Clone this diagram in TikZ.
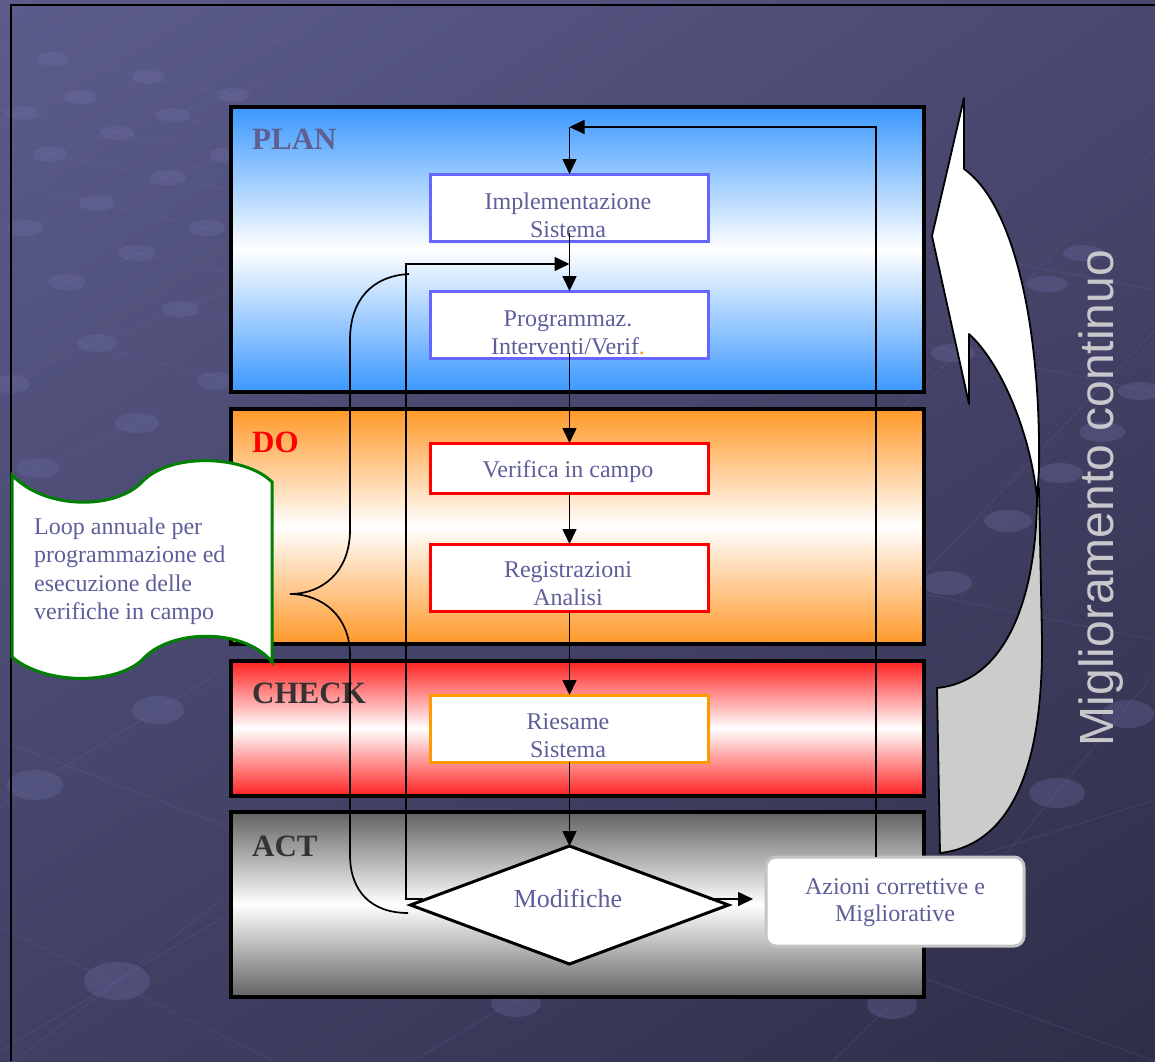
\documentclass[tikz,border=0pt]{standalone}
\usepackage{fontspec}
\setmainfont{Liberation Serif}
\newfontfamily\arialfont{Liberation Sans}
\usetikzlibrary{arrows.meta,shapes.geometric,shadings}

\definecolor{bgUL}{RGB}{92,92,140}
\definecolor{bgUR}{RGB}{74,72,112}
\definecolor{bgLL}{RGB}{64,64,100}
\definecolor{bgLR}{RGB}{46,46,72}
\definecolor{dotcol}{RGB}{112,112,168}
\definecolor{txtblue}{RGB}{94,94,154}
\definecolor{plantxt}{RGB}{95,95,143}
\definecolor{planblue}{RGB}{58,152,255}
\definecolor{doorange}{RGB}{255,152,40}
\definecolor{chkred}{RGB}{255,34,34}
\definecolor{actgray}{RGB}{98,98,98}
\definecolor{procblue}{RGB}{102,102,255}
\definecolor{procorange}{RGB}{255,153,0}
\definecolor{notegreen}{RGB}{0,128,0}
\definecolor{arrowgray}{RGB}{204,204,204}
\definecolor{mglgray}{RGB}{200,200,204}
\definecolor{azborder}{RGB}{196,196,196}
\definecolor{lbldark}{RGB}{51,51,51}

\begin{document}
\begin{tikzpicture}[x=1pt,y=-1pt,
  bgdot/.style={fill=dotcol,opacity=0.3},
  bgline/.style={draw=dotcol,opacity=0.2,line width=1pt},
  phase/.style={draw=black,line width=3.5pt,minimum width=693pt,inner sep=0pt,
    outer sep=0pt,anchor=north west,middle color=white},
  phaselbl/.style={anchor=base west,inner sep=0pt,
    font=\bfseries\fontsize{31}{31}\selectfont},
  procbox/.style={draw,line width=3pt,fill=white,minimum width=278pt,
    inner sep=0pt,outer sep=0pt},
  proctext/.style={align=center,inner sep=0pt,text=txtblue,
    font=\fontsize{24}{28}\selectfont},
  decision/.style={diamond,draw=black,line width=3pt,fill=white,aspect=2.7,
    minimum width=318pt,minimum height=118pt,inner sep=0pt,outer sep=0pt},
  actionbox/.style={draw=azborder,line width=3pt,fill=white,rounded corners=10pt,
    minimum width=258pt,minimum height=89pt,inner sep=0pt,outer sep=0pt},
  arr/.style={draw=black,line width=1.6pt,-{Triangle[length=15pt,width=14pt]}},
  bracestyle/.style={draw=black,line width=1.7pt},
  notestyle/.style={draw=notegreen,line width=3pt,fill=white},
  bandstyle/.style={draw=black,line width=1.8pt,line join=round}
]
\useasboundingbox (0,0) rectangle (1155,1061);

% backdrop
\shade[upper left=bgUL,upper right=bgUR,lower left=bgLL,lower right=bgLR]
  (0,0) rectangle (1155,1061);

% faint lattice of the backdrop
\foreach \ax/\ay/\bx/\by in {
  0/48/420/132, 0/82/420/166, 0/109/420/193, 0/144/420/228, 0/181/420/276,
  0/222/420/316, 0/266/420/366, 0/325/420/425, 0/119/300/35, 0/170/330/63,
  0/237/330/118, 0/308/330/180, 0/383/330/248, 0/485/330/336, 0/806/330/605,
  0/1051/330/853, 0/740/330/866, 0/927/273/1061, 15/1061/221/900,
  900/340/1155/392, 920/593/1155/640, 960/253/1155/290,
  1155/150/900/410, 1155/330/880/620, 1155/673/1007/853,
  1155/800/516/1000, 516/1000/413/1061, 892/1003/833/1061, 921/977/1155/1061}
  \draw[bgline] (\ax,\ay) -- (\bx,\by);
\foreach \x/\y/\rx/\ry in {
  53/59/16/7, 148/77/16/7, 233/95/16/7, 80/97/16/7, 173/115/17/7, 22/113/17/7,
  117/133/17/7, 50/154/17/8, 227/155/17/8, 168/178/18/8, 97/203/18/8,
  207/228/18/8, 25/228/18/8, 137/253/19/8, 67/282/19/8, 180/309/19/8,
  97/343/20/9, 10/384/20/9, 217/381/20/9, 137/423/22/10, 38/468/22/10,
  158/710/26/14, 35/785/28/15, 117/981/33/19,
  1083/253/20/8, 1047/284/21/8, 953/353/22/9, 1140/391/22/9, 1102/432/23/10,
  1060/473/23/10, 1008/521/24/11, 947/583/25/12, 1128/714/26/14,
  1057/793/28/15, 516/1003/25/14, 892/1005/25/14}
  \fill[bgdot] (\x,\y) ellipse [x radius=\rx, y radius=\ry];

% frame lines
\draw[line width=2pt] (11,1061) -- (11,5) -- (1155,5);

% curved improvement arrow: back face, then front face
\draw[bandstyle,fill=arrowgray]
  (1037,498) .. controls (1036,610) and (1000,682) .. (937,688)
  -- (940,853) .. controls (1010,845) and (1043,770) .. (1042,640)
  -- (1039,488) -- cycle;
\draw[bandstyle,fill=white]
  (932,236) -- (964,98) -- (964,169)
  .. controls (1015,205) and (1041,330) .. (1039,470) -- (1037,498)
  .. controls (1030,430) and (1000,362) .. (969,334) -- (969,404) -- cycle;
\node[rotate=90,anchor=base,inner sep=0pt,text=mglgray,
  font=\arialfont\fontsize{48}{48}\selectfont] (migl) at (1113,498)
  {Miglioramento continuo};

% PDCA phases
\node[phase,top color=planblue,bottom color=planblue,middle color=white,
  minimum height=285pt] (plan) at (231,107) {};
\node[phase,top color=doorange,bottom color=doorange,middle color=white,
  minimum height=235pt] (do) at (231,409) {};
\node[phase,top color=chkred,bottom color=chkred,middle color=white,
  minimum height=135pt] (check) at (231,661) {};
\node[phase,top color=actgray,bottom color=actgray,middle color=white,
  minimum height=185pt] (act) at (231,812) {};
\node[phaselbl,text=plantxt] (planlbl) at (252,149) {PLAN};
\node[phaselbl,text=red] (dolbl) at (252,452) {DO};
\node[phaselbl,text=lbldark] (checklbl) at (252,703) {CHECK};
\node[phaselbl,text=lbldark] (actlbl) at (252,856) {ACT};

% annual loop brace
\draw[bracestyle] (409,274) .. controls (372,276) and (350,300) .. (350,340)
  -- (350,530) .. controls (350,572) and (322,594) .. (290,594)
  .. controls (322,594) and (350,616) .. (350,655)
  -- (350,855) .. controls (350,892) and (372,913) .. (408,913);

% process steps
\node[procbox,draw=procblue,minimum height=67pt] (impl) at (569.5,207.5) {};
\node[procbox,draw=procblue,minimum height=67pt] (prog) at (569.5,324.5) {};
\node[procbox,draw=red,minimum height=50pt] (ver) at (569.5,468) {};
\node[procbox,draw=red,minimum height=67pt] (reg) at (569.5,577.5) {};
\node[procbox,draw=procorange,minimum height=67pt] (ries) at (569.5,728.5) {};
\node[decision] (mod) at (569.5,905) {};
\node[actionbox] (az) at (895,901.5) {};

\node[proctext] (impltxt) at (568,214.8) {Implementazione\\Sistema};
\node[proctext] (progtxt) at (568,333.2)
  {Programmaz.\\Interventi/Verif\textcolor{procorange}{.}};
\node[proctext] (vertxt) at (568,471.4) {Verifica in campo};
\node[proctext] (regtxt) at (568,583.3) {Registrazioni\\Analisi};
\node[proctext] (riestxt) at (568,735.5) {Riesame\\Sistema};
\node[proctext,font=\fontsize{26}{30}\selectfont] (modtxt) at (568,898) {Modifiche};
\node[proctext,font=\fontsize{24}{27}\selectfont] (aztxt) at (895,903)
  {Azioni correttive e\\Migliorative};

% flow connectors
\coordinate (topj) at (569.5,127);
\coordinate (loopj) at (569.5,264);
\coordinate (loopc) at (406,899);
\draw[arr] ([xshift=-19pt]az.north) |- (topj);
\draw[arr] (topj) -- (impl.north);
\draw[arr] ([yshift=8pt]impl.south) -- (prog.north);
\draw[arr] ([xshift=12pt,yshift=6pt]mod.west) -- (loopc) |- (loopj);
\draw[arr] ([yshift=5pt]prog.south) -- (ver.north);
\draw[arr] (ver.south) -- (reg.north);
\draw[arr] (reg.south) -- (ries.north);
\draw[arr] (ries.south) -- (mod.north);
\draw[arr,shorten >=13pt] ([xshift=-20pt,yshift=6pt]mod.east)
  -- ([yshift=6pt]mod.east -| az.west);

% wavy note
\draw[notestyle] (12,475) .. controls (45,510) and (115,510) .. (142,482)
  .. controls (170,452) and (245,455) .. (272,482) -- (272,662)
  .. controls (245,628) and (170,628) .. (142,660)
  .. controls (115,685) and (45,685) .. (12,657) -- cycle;
\node[anchor=west,align=left,inner sep=0pt,text=txtblue,
  font=\fontsize{24}{28.5}\selectfont] (loopnote) at (34,571)
  {Loop annuale per\\programmazione ed\\esecuzione delle\\verifiche in campo};
\end{tikzpicture}
\end{document}
